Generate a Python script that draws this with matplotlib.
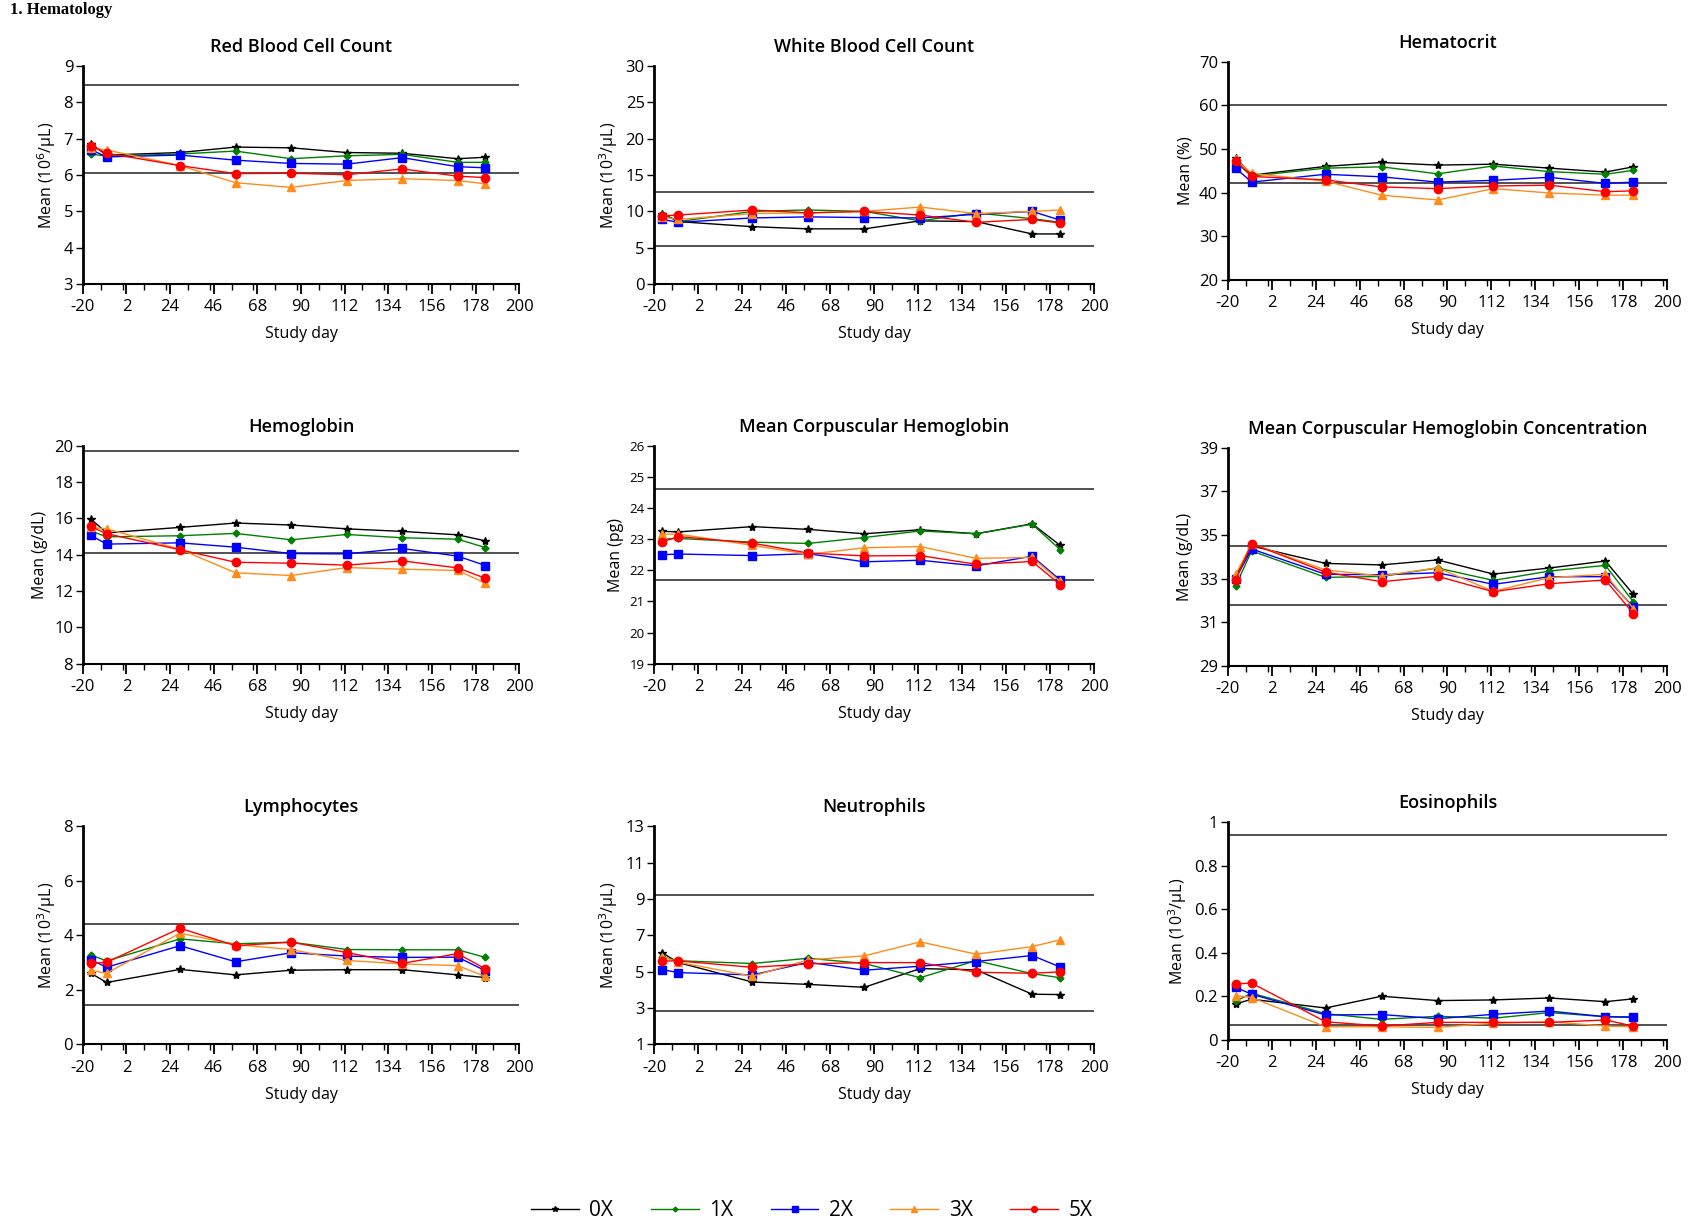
import matplotlib
matplotlib.use("Agg")
import numpy as np
import matplotlib.pyplot as plt
from matplotlib.ticker import MultipleLocator, FixedLocator

plt.rcParams['font.family'] = ['Open Sans', 'DejaVu Sans']
plt.rcParams['axes.unicode_minus'] = False

# study days of the visits
days = [-16, -8, 29, 57, 85, 113, 141, 169, 183]
groups = ['0X', '1X', '2X', '3X', '5X']

# Red Blood Cell Count (10^6/uL)
rbc_0x = [6.86, 6.55, 6.62, 6.77, 6.75, 6.62, 6.60, 6.45, 6.49]
rbc_1x = [6.58, 6.52, 6.58, 6.66, 6.45, 6.53, 6.57, 6.35, 6.35]
rbc_2x = [6.70, 6.50, 6.55, 6.41, 6.32, 6.30, 6.48, 6.23, 6.20]
rbc_3x = [6.74, 6.69, 6.26, 5.79, 5.66, 5.85, 5.90, 5.85, 5.76]
rbc_5x = [6.81, 6.60, 6.26, 6.04, 6.05, 6.01, 6.17, 5.97, 5.93]
rbc_range = [8.47, 6.07]

# White Blood Cell Count (10^3/uL)
wbc_0x = [9.7, 8.6, 7.9, 7.6, 7.6, 8.7, 8.6, 6.9, 6.9]
wbc_1x = [9.7, 8.6, 10.0, 10.2, 10.0, 8.7, 9.8, 9.0, 8.5]
wbc_2x = [8.9, 8.5, 9.1, 9.25, 9.15, 9.1, 9.6, 10.0, 8.8]
wbc_3x = [9.2, 8.9, 9.7, 9.8, 10.0, 10.6, 9.7, 10.0, 10.2]
wbc_5x = [9.4, 9.5, 10.2, 9.8, 10.0, 9.5, 8.5, 8.9, 8.4]
wbc_range = [12.7, 5.2]

# Hematocrit (%)
hct_0x = [48.0, 44.0, 46.0, 46.9, 46.3, 46.5, 45.6, 44.7, 45.9]
hct_1x = [47.0, 43.8, 45.6, 45.9, 44.3, 46.1, 44.8, 44.2, 45.1]
hct_2x = [45.6, 42.4, 44.2, 43.6, 42.4, 42.8, 43.5, 42.1, 42.4]
hct_3x = [47.6, 44.4, 42.6, 39.4, 38.3, 40.9, 39.9, 39.4, 39.4]
hct_5x = [47.3, 43.7, 42.9, 41.3, 40.9, 41.5, 41.7, 40.2, 40.4]
hct_range = [60.0, 42.2]

# Hemoglobin (g/dL)
hgb_0x = [15.96, 15.2, 15.5, 15.74, 15.63, 15.42, 15.28, 15.09, 14.76]
hgb_1x = [15.3, 14.98, 15.04, 15.17, 14.82, 15.11, 14.93, 14.85, 14.39]
hgb_2x = [15.06, 14.58, 14.65, 14.41, 14.06, 14.04, 14.34, 13.92, 13.40]
hgb_3x = [15.5, 15.42, 14.3, 13.0, 12.85, 13.29, 13.2, 13.13, 12.43]
hgb_5x = [15.55, 15.15, 14.27, 13.58, 13.53, 13.42, 13.66, 13.27, 12.70]
hgb_range = [19.7, 14.1]

# Mean Corpuscular Hemoglobin (pg)
mch_0x = [23.25, 23.23, 23.40, 23.31, 23.17, 23.30, 23.17, 23.49, 22.80]
mch_1x = [23.0, 23.02, 22.90, 22.86, 23.05, 23.26, 23.17, 23.48, 22.66]
mch_2x = [22.50, 22.52, 22.47, 22.53, 22.27, 22.32, 22.14, 22.45, 21.69]
mch_3x = [23.16, 23.16, 22.80, 22.51, 22.72, 22.76, 22.38, 22.41, 21.64]
mch_5x = [22.91, 23.08, 22.87, 22.55, 22.46, 22.47, 22.19, 22.28, 21.54]
mch_range = [24.6, 21.7]

# Mean Corpuscular Hemoglobin Concentration (g/dL)
mchc_0x = [33.08, 34.5, 33.70, 33.63, 33.86, 33.21, 33.49, 33.81, 32.28]
mchc_1x = [32.68, 34.27, 33.06, 33.1, 33.49, 32.92, 33.35, 33.61, 31.94]
mchc_2x = [33.0, 34.36, 33.20, 33.18, 33.27, 32.74, 33.09, 33.09, 31.70]
mchc_3x = [33.20, 34.6, 33.40, 33.12, 33.50, 32.42, 33.05, 33.20, 31.63]
mchc_5x = [32.95, 34.60, 33.30, 32.86, 33.11, 32.40, 32.77, 32.94, 31.40]
mchc_range = [34.5, 31.8]

# Lymphocytes (10^3/uL)
lym_0x = [2.61, 2.27, 2.75, 2.55, 2.72, 2.74, 2.74, 2.55, 2.45]
lym_1x = [3.28, 3.06, 3.87, 3.69, 3.75, 3.48, 3.47, 3.47, 3.19]
lym_2x = [3.10, 2.83, 3.62, 3.03, 3.36, 3.24, 3.19, 3.20, 2.70]
lym_3x = [2.71, 2.61, 4.08, 3.66, 3.48, 3.08, 2.95, 2.89, 2.49]
lym_5x = [2.97, 3.01, 4.26, 3.62, 3.75, 3.37, 2.97, 3.33, 2.77]
lym_range = [4.43, 1.45]

# Neutrophils (10^3/uL)
neu_0x = [6.03, 5.5, 4.43, 4.30, 4.14, 5.17, 5.10, 3.76, 3.74]
neu_1x = [5.8, 5.6, 5.45, 5.74, 5.45, 4.67, 5.61, 4.89, 4.67]
neu_2x = [5.11, 4.95, 4.82, 5.52, 5.08, 5.30, 5.56, 5.89, 5.26]
neu_3x = [5.83, 5.52, 4.75, 5.65, 5.87, 6.64, 5.96, 6.38, 6.75]
neu_5x = [5.59, 5.59, 5.24, 5.43, 5.50, 5.50, 4.97, 4.91, 4.99]
neu_range = [9.2, 2.85]

# Eosinophils (10^3/uL)
eos_0x = [0.166, 0.187, 0.147, 0.201, 0.181, 0.184, 0.193, 0.176, 0.189]
eos_1x = [0.178, 0.215, 0.121, 0.095, 0.109, 0.100, 0.126, 0.107, 0.103]
eos_2x = [0.242, 0.210, 0.115, 0.117, 0.098, 0.118, 0.133, 0.107, 0.106]
eos_3x = [0.204, 0.195, 0.061, 0.061, 0.058, 0.077, 0.084, 0.064, 0.061]
eos_5x = [0.258, 0.261, 0.084, 0.064, 0.081, 0.081, 0.081, 0.092, 0.064]
eos_range = [0.94, 0.07]

x_ticks = [-20, 2, 24, 46, 68, 90, 112, 134, 156, 178, 200]

panels = [
    ("Red Blood Cell Count", "Mean (10$^{6}$/\u00b5L)", [rbc_0x, rbc_1x, rbc_2x, rbc_3x, rbc_5x], rbc_range, (3, 9), 1),
    ("White Blood Cell Count", "Mean (10$^{3}$/\u00b5L)", [wbc_0x, wbc_1x, wbc_2x, wbc_3x, wbc_5x], wbc_range, (0, 30), 5),
    ("Hematocrit", "Mean (%)", [hct_0x, hct_1x, hct_2x, hct_3x, hct_5x], hct_range, (20, 70), 10),
    ("Hemoglobin", "Mean (g/dL)", [hgb_0x, hgb_1x, hgb_2x, hgb_3x, hgb_5x], hgb_range, (8, 20), 2),
    ("Mean Corpuscular Hemoglobin", "Mean (pg)", [mch_0x, mch_1x, mch_2x, mch_3x, mch_5x], mch_range, (19, 26), 1),
    ("Mean Corpuscular Hemoglobin Concentration", "Mean (g/dL)", [mchc_0x, mchc_1x, mchc_2x, mchc_3x, mchc_5x], mchc_range, (29, 39), 2),
    ("Lymphocytes", "Mean (10$^{3}$/\u00b5L)", [lym_0x, lym_1x, lym_2x, lym_3x, lym_5x], lym_range, (0, 8), 2),
    ("Neutrophils", "Mean (10$^{3}$/\u00b5L)", [neu_0x, neu_1x, neu_2x, neu_3x, neu_5x], neu_range, (1, 13), 2),
    ("Eosinophils", "Mean (10$^{3}$/\u00b5L)", [eos_0x, eos_1x, eos_2x, eos_3x, eos_5x], eos_range, (0, 1), 0.2),
]

# series styles
colors = ['black', 'green', 'blue', '#ff8c1a', 'red']
markers = ['*', 'D', 's', '^', 'o']
msizes = [6, 3.5, 6, 6, 6]

# axes boxes (left, bottom, width, height) in figure fractions
lefts = [0.049, 0.387, 0.726]
widths = [0.258, 0.26, 0.26]
bottoms = [[0.7694, 0.7694, 0.7729], [0.4613, 0.4613, 0.4595], [0.1523, 0.1523, 0.1558]]
height = 0.177

fig = plt.figure(figsize=(16.91, 12.32), dpi=100)
fig.text(0.006, 0.998, "1. Hematology", fontsize=12, fontweight='bold',
         family=['Liberation Serif', 'DejaVu Serif'], va='top', ha='left')

handles = []
for i, (title, ylabel, series, ref, ylim, ystep) in enumerate(panels):
    r, c = divmod(i, 3)
    ax = fig.add_axes([lefts[c], bottoms[r][c], widths[c], height])

    for g in range(len(groups)):
        h, = ax.plot(days, series[g], color=colors[g], marker=markers[g],
                     markersize=msizes[g], linewidth=1, label=groups[g], clip_on=False)
        if i == 0:
            handles.append(h)

    # normal range lines
    for v in ref:
        ax.axhline(v, color='#333333', linewidth=1.2, zorder=0)

    ax.set_xlim(-20, 200)
    ax.set_ylim(*ylim)
    ax.xaxis.set_major_locator(FixedLocator(x_ticks))
    ax.xaxis.set_minor_locator(MultipleLocator(11))
    yt = np.arange(ylim[0], ylim[1] + ystep / 2, ystep)
    ax.set_yticks(yt)
    ax.set_yticklabels([f"{v:g}" for v in np.round(yt, 3)])

    ax.spines['top'].set_visible(False)
    ax.spines['right'].set_visible(False)
    ax.spines['left'].set_linewidth(2)
    ax.spines['bottom'].set_linewidth(1.5)
    ysize = 9.5 if i == 4 else 12
    ax.tick_params(axis='x', which='major', length=7, width=1.3, labelsize=12, pad=4)
    ax.tick_params(axis='x', which='minor', length=4, width=1.0)
    ax.tick_params(axis='y', which='major', length=5, width=1.0, labelsize=ysize, pad=2)

    ax.set_title(title, fontsize=13, fontweight='semibold', pad=10)
    ax.set_ylabel(ylabel, fontsize=11.5)
    ax.set_xlabel("Study day", fontsize=11.5, labelpad=8)

fig.legend(handles, groups, loc='center', bbox_to_anchor=(0.48, 0.0175), ncol=5,
           frameon=False, fontsize=15, handlelength=2.3, columnspacing=1.8,
           handletextpad=0.5, markerscale=0.7)

fig.savefig("out.png", dpi=100)
